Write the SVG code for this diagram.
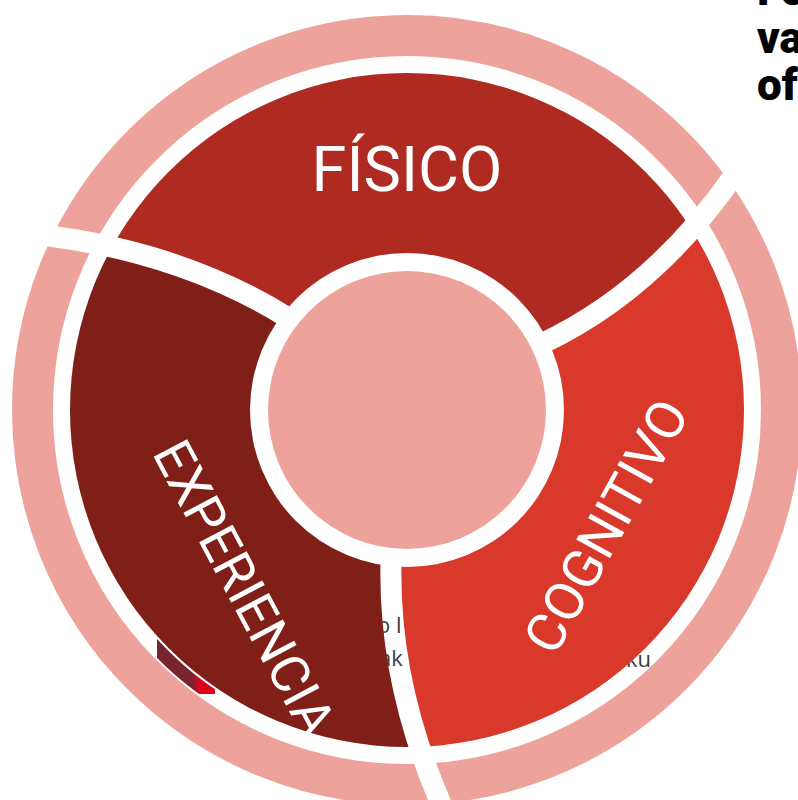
<svg xmlns="http://www.w3.org/2000/svg" width="798" height="800" viewBox="0 0 798 800">
  <style>
    .lbl { font-family: Roboto, "Liberation Sans", sans-serif; fill: #ffffff; text-anchor: middle; }
    .frag { font-family: "Open Sans", "Liberation Sans", sans-serif; font-size: 22px; fill: #3c3c3c; }
    .head { font-family: Roboto, "Liberation Sans", sans-serif; font-weight: 900; font-size: 44px; fill: #000000; }
    .gap { fill: none; stroke: #000000; stroke-width: 21; }
  </style>
  <defs>
    <clipPath id="segClip">
      <circle cx="407" cy="410" r="337"/>
    </clipPath>
    <clipPath id="bandClip">
      <path clip-rule="evenodd" d="M407,58 A352,352 0 1,1 406.9,58 Z M407,71 A339,339 0 1,0 407.1,71 Z"/>
    </clipPath>
    <linearGradient id="sliver" x1="157" y1="0" x2="215" y2="0" gradientUnits="userSpaceOnUse">
      <stop offset="0" stop-color="#7a2430"/>
      <stop offset="0.6" stop-color="#7a2430"/>
      <stop offset="0.75" stop-color="#e2001b"/>
      <stop offset="1" stop-color="#e2001b"/>
    </linearGradient>
    <mask id="gapMask" maskUnits="userSpaceOnUse" x="0" y="0" width="798" height="800">
      <rect x="0" y="0" width="798" height="800" fill="#ffffff"/>
      <circle cx="407" cy="410" r="157" fill="#000000"/>
      <path class="gap" d="M288.5,318.1 Q182.45,252.05 41.8,235"/>
      <path class="gap" d="M541.6,343.8 Q654.25,290.75 735.5,173.1"/>
      <path class="gap" d="M391.1,559.1 Q387.3,683.85 445.1,813.2"/>
    </mask>
  </defs>

  <rect x="0" y="0" width="798" height="800" fill="#ffffff"/>

  <g id="fondo">
    <g clip-path="url(#bandClip)">
      <rect x="157" y="618" width="58" height="76" fill="url(#sliver)"/>
    </g>
    <text class="frag" x="377" y="633">o l</text>
    <text class="frag" x="379" y="666">ak</text>
    <text class="frag" x="626" y="667">ku</text>
  </g>

  <g mask="url(#gapMask)">
    <g id="anillo">
      <circle cx="407" cy="410" r="374.5" fill="none" stroke="#eda39c" stroke-width="41"/>
    </g>
    <g clip-path="url(#segClip)">
      <g id="fisico">
        <path fill="#af2a21" d="M407,410 L288.5,318.1 Q182.45,252.05 41.8,235 A405,405 0 0,1 735.5,173.1 Q654.25,290.75 541.6,343.8 Z"/>
      </g>
      <g id="cognitivo">
        <path fill="#d8392a" d="M407,410 L541.6,343.8 Q654.25,290.75 735.5,173.1 A405,405 0 0,1 445.1,813.2 Q387.3,683.85 391.1,559.1 Z"/>
      </g>
      <g id="experiencia">
        <path fill="#801f17" d="M407,410 L391.1,559.1 Q387.3,683.85 445.1,813.2 A405,405 0 0,1 41.8,235 Q182.45,252.05 288.5,318.1 Z"/>
      </g>
    </g>
  </g>

  <g id="centro">
    <circle cx="407" cy="410" r="139" fill="#eda39c"/>
  </g>

  <g id="etiquetas">
    <text class="lbl" x="407" y="191" font-size="63">FÍSICO</text>
    <text class="lbl" font-size="53" transform="translate(245,588) rotate(62)" y="19">EXPERIENCIA</text>
    <text class="lbl" font-size="54" transform="translate(606,526) rotate(-61)" y="19">COGNITIVO</text>
  </g>

  <g id="titulo">
    <text class="head" x="757" y="5">Fo</text>
    <text class="head" x="757" y="53">va</text>
    <text class="head" x="757" y="100">of</text>
  </g>
</svg>
